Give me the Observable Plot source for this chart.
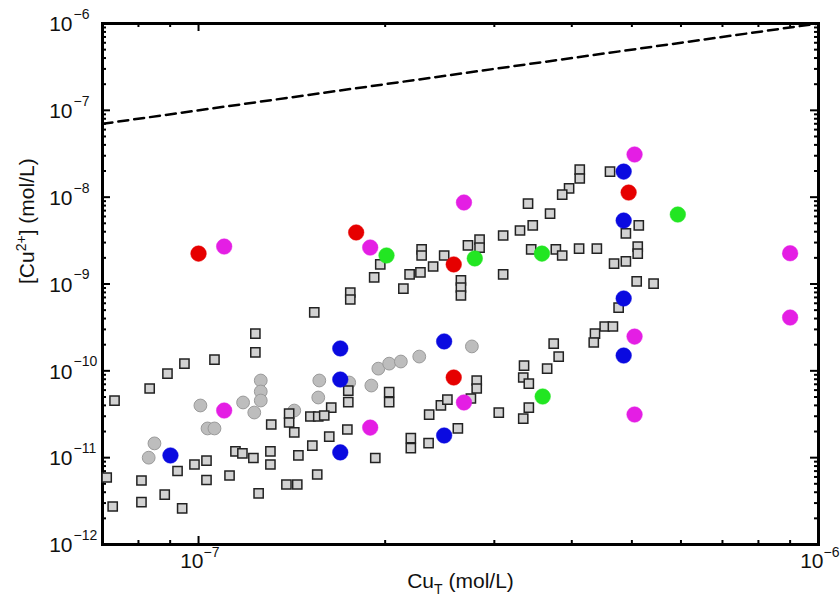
<!DOCTYPE html>
<html>
<head>
<meta charset="utf-8">
<script src="https://cdn.jsdelivr.net/npm/d3@7"></script>
<script src="https://cdn.jsdelivr.net/npm/@observablehq/plot@0.6"></script>
<style>
  html, body { margin: 0; padding: 0; background: #fff; }
  #chart svg { display: block; }
</style>
</head>
<body>
<div id="chart"></div>
<script>
// ---- Data ----
// Gray squares
const squareX = [1.235e-7,1.235e-7,9.49e-8,1.061e-7,8.91e-8,8.34e-8,7.32e-8,1.31e-7,1.40e-7,1.40e-7,
  1.427e-7,1.147e-7,1.177e-7,1.226e-7,1.306e-7,1.306e-7,1.449e-7,1.03e-7,9.85e-8,9.25e-8,
  7.11e-8,8.09e-8,1.03e-7,1.122e-7,8.82e-8,1.25e-7,1.386e-7,1.443e-7,8.09e-8,7.27e-8,
  9.41e-8,1.744e-7,1.744e-7,2.03e-7,2.03e-7,1.637e-7,1.515e-7,1.56e-7,1.595e-7,1.738e-7,
  1.625e-7,1.526e-7,1.928e-7,1.554e-7,2.20e-7,2.20e-7,2.35e-7,2.355e-7,2.46e-7,2.52e-7,
  2.62e-7,2.81e-7,2.81e-7,2.75e-7,4.76e-7,4.52e-7,4.66e-7,4.36e-7,4.34e-7,3.74e-7,
  3.81e-7,3.35e-7,3.65e-7,3.34e-7,3.41e-7,3.41e-7,3.34e-7,3.05e-7,1.964e-7,1.92e-7,
  2.29e-7,2.29e-7,2.19e-7,2.28e-7,2.39e-7,2.49e-7,2.14e-7,1.757e-7,1.757e-7,1.537e-7,
  2.65e-7,2.65e-7,2.65e-7,2.72e-7,2.84e-7,2.84e-7,4.12e-7,4.12e-7,4.61e-7,3.96e-7,
  3.86e-7,3.40e-7,3.69e-7,3.46e-7,3.30e-7,3.10e-7,3.44e-7,3.77e-7,3.86e-7,4.11e-7,
  4.39e-7,5.13e-7,4.89e-7,5.11e-7,5.11e-7,4.68e-7,4.89e-7,5.09e-7,5.42e-7,3.10e-7];
const squareY = [2.69e-10,1.63e-10,1.21e-10,1.35e-10,9.31e-11,6.26e-11,4.55e-11,2.41e-11,3.22e-11,2.54e-11,
  1.95e-11,1.18e-11,1.12e-11,9.91e-12,1.18e-11,8.34e-12,1.06e-11,9.27e-12,8.34e-12,7.02e-12,
  5.91e-12,5.46e-12,5.53e-12,6.23e-12,3.76e-12,3.87e-12,4.91e-12,4.91e-12,3.08e-12,2.74e-12,
  2.60e-12,5.93e-11,4.37e-11,5.70e-11,4.37e-11,3.78e-11,2.98e-11,2.98e-11,3.06e-11,2.11e-11,
  1.75e-11,1.38e-11,9.91e-12,6.40e-12,1.68e-11,1.29e-11,1.47e-11,3.14e-11,3.99e-11,4.67e-11,
  2.17e-11,7.74e-11,6.26e-11,4.80e-11,5.36e-10,3.24e-10,3.24e-10,2.69e-10,2.12e-10,2.06e-10,
  1.46e-10,1.15e-10,1.06e-10,8.38e-11,7.14e-11,3.78e-11,2.82e-11,3.31e-11,1.68e-9,1.19e-9,
  2.50e-9,2.13e-9,1.29e-9,1.36e-9,1.59e-9,2.13e-9,8.87e-10,7.98e-10,6.63e-10,4.70e-10,
  1.10e-9,9.11e-10,7.37e-10,2.78e-9,3.25e-9,2.63e-9,2.08e-8,1.64e-8,1.97e-8,1.26e-8,
  1.07e-8,8.45e-9,6.48e-9,4.72e-9,4.13e-9,3.62e-9,2.50e-9,2.50e-9,2.13e-9,2.56e-9,
  2.56e-9,4.72e-9,3.82e-9,2.70e-9,2.24e-9,1.72e-9,1.82e-9,1.07e-9,1.01e-9,1.29e-9];

// Gray circles
const grayX = [1.007e-7,1.034e-7,1.061e-7,1.18e-7,1.23e-7,1.26e-7,1.26e-7,1.26e-7,1.427e-7,8.49e-8,
  8.31e-8,1.566e-7,1.56e-7,1.90e-7,1.95e-7,2.03e-7,2.12e-7,2.27e-7,2.76e-7,1.75e-7];
const grayY = [3.99e-11,2.17e-11,2.17e-11,4.32e-11,3.31e-11,7.74e-11,5.78e-11,4.55e-11,3.49e-11,1.46e-11,
  1.00e-11,7.74e-11,4.93e-11,6.77e-11,1.06e-10,1.21e-10,1.28e-10,1.46e-10,1.91e-10,7.34e-11];

// Blue circles
const blueX = [9.01e-8,1.693e-7,1.693e-7,1.693e-7,2.49e-7,2.49e-7,4.85e-7,4.85e-7,4.85e-7,4.85e-7];
const blueY = [1.06e-11,1.81e-10,7.94e-11,1.15e-11,2.18e-10,1.80e-11,1.97e-8,5.38e-9,6.81e-10,1.50e-10];

// Red circles
const redX = [1.0e-7,1.796e-7,2.58e-7,4.94e-7,2.58e-7];
const redY = [2.24e-9,3.92e-9,1.68e-9,1.13e-8,8.38e-11];

// Magenta circles
const magentaX = [1.10e-7,1.892e-7,2.68e-7,5.05e-7,5.05e-7,5.05e-7,1.10e-7,1.892e-7,2.68e-7,9.0e-7,9.0e-7];
const magentaY = [2.70e-9,2.63e-9,8.68e-9,3.10e-8,2.48e-10,3.14e-11,3.49e-11,2.22e-11,4.32e-11,2.26e-9,4.11e-10];

// Green circles
const greenX = [2.01e-7,2.79e-7,3.58e-7,5.93e-7,3.59e-7];
const greenY = [2.13e-9,1.97e-9,2.24e-9,6.31e-9,5.06e-11];

// 1:1 reference line
const lineX = [7e-8, 1e-6];
const lineY = [7e-8, 1e-6];

// Axes
const xDomain = [7e-8, 1e-6];
const yDomain = [1e-12, 1e-6];
const xMajorTicks = [1e-7, 1e-6];
const xMajorExp = ["\u22127", "\u22126"];
const yMajorTicks = [1e-12, 1e-11, 1e-10, 1e-9, 1e-8, 1e-7, 1e-6];
const yMajorExp = ["\u221212", "\u221211", "\u221210", "\u22129", "\u22128", "\u22127", "\u22126"];
const mantissas = [2, 3, 4, 5, 6, 7, 8, 9];

// ---- Build tables ----
const pts = (xs, ys) => xs.map((x, i) => ({x, y: ys[i]}));
const squares = pts(squareX, squareY);
const grays = pts(grayX, grayY);
const blues = pts(blueX, blueY);
const reds = pts(redX, redY);
const magentas = pts(magentaX, magentaY);
const greens = pts(greenX, greenY);
const diag = pts(lineX, lineY);
const xMinor = [1e-8, 1e-7].flatMap(d => mantissas.map(m => m * d)).filter(v => v > xDomain[0] && v < xDomain[1]);
const yMinor = yMajorTicks.slice(0, -1).flatMap(d => mantissas.map(m => m * d));
const xMajor = xMajorTicks.map((v, i) => ({v, e: xMajorExp[i]}));
const yMajor = yMajorTicks.map((v, i) => ({v, e: yMajorExp[i]}));

const W = 840, H = 603;
const mL = 102, mR = 22, mT = 23, mB = 59;
const fw = W - mL - mR, fh = H - mT - mB;
const majLen = 8, minLen = 4;

const chart = Plot.plot({
  width: W, height: H,
  marginLeft: mL, marginRight: mR, marginTop: mT, marginBottom: mB,
  x: {type: "log", domain: xDomain, axis: null},
  y: {type: "log", domain: yDomain, axis: null},
  style: {fontFamily: "'Liberation Sans', Arial, Helvetica, sans-serif", background: "#fff", color: "#111"},
  marks: [
    // ticks (inward) on all four sides
    Plot.ruleX(xMinor, {x: d => d, insetTop: fh - minLen, stroke: "#000", strokeWidth: 2}),
    Plot.ruleX(xMinor, {x: d => d, insetBottom: fh - minLen, stroke: "#000", strokeWidth: 2}),
    Plot.ruleX(xMajorTicks, {x: d => d, insetTop: fh - majLen, stroke: "#000", strokeWidth: 2}),
    Plot.ruleX(xMajorTicks, {x: d => d, insetBottom: fh - majLen, stroke: "#000", strokeWidth: 2}),
    Plot.ruleY(yMinor, {y: d => d, insetRight: fw - minLen, stroke: "#000", strokeWidth: 2}),
    Plot.ruleY(yMinor, {y: d => d, insetLeft: fw - minLen, stroke: "#000", strokeWidth: 2}),
    Plot.ruleY(yMajorTicks, {y: d => d, insetRight: fw - majLen, stroke: "#000", strokeWidth: 2}),
    Plot.ruleY(yMajorTicks, {y: d => d, insetLeft: fw - majLen, stroke: "#000", strokeWidth: 2}),
    Plot.frame({stroke: "#000", strokeWidth: 3}),
    // 1:1 line
    Plot.line(diag, {x: "x", y: "y", stroke: "#000", strokeWidth: 2.5, strokeDasharray: "10,6"}),
    // data
    Plot.dot(grays, {x: "x", y: "y", r: 6.4, fill: "#bdbdbd", stroke: "#9a9a9a", strokeWidth: 1}),
    Plot.dot(squares, {x: "x", y: "y", symbol: "square", r: 5.2, fill: "#d2d2d2", stroke: "#222", strokeWidth: 1.5}),
    Plot.dot(blues, {x: "x", y: "y", r: 7.8, fill: "#0a0ae0", stroke: "#0a0ae0", strokeWidth: 0.5}),
    Plot.dot(reds, {x: "x", y: "y", r: 7.8, fill: "#e60000", stroke: "#e60000", strokeWidth: 0.5}),
    Plot.dot(magentas, {x: "x", y: "y", r: 7.8, fill: "#e41ee4", stroke: "#e41ee4", strokeWidth: 0.5}),
    Plot.dot(greens, {x: "x", y: "y", r: 7.8, fill: "#22e622", stroke: "#22e622", strokeWidth: 0.5}),
    // x tick labels
    Plot.text(xMajor, {x: "v", frameAnchor: "bottom", dy: 23, dx: 5, text: () => "10", textAnchor: "end", fontSize: 21, fill: "#111"}),
    Plot.text(xMajor, {x: "v", frameAnchor: "bottom", dy: 12, dx: 5, text: "e", textAnchor: "start", fontSize: 14, fill: "#111"}),
    // y tick labels
    Plot.text(yMajor, {y: "v", frameAnchor: "left", dx: -30, dy: 1, text: () => "10", textAnchor: "end", fontSize: 21, fill: "#111"}),
    Plot.text(yMajor, {y: "v", frameAnchor: "left", dx: -29, dy: -9, text: "e", textAnchor: "start", fontSize: 14, fill: "#111"}),
    // axis titles (rich text filled in below)
    Plot.text(["CuT (mol/L)"], {frameAnchor: "bottom", dy: 43, text: d => d, fontSize: 21, fill: "#111", className: "xtitle"}),
    Plot.text(["[Cu2+] (mol/L)"], {frameAnchor: "left", dx: -75, rotate: -90, text: d => d, fontSize: 21, fill: "#111", className: "ytitle"})
  ]
});

document.getElementById("chart").appendChild(chart);

// Rich text for axis titles (subscript / superscript)
function rich(sel, parts) {
  d3.select(chart).selectAll(sel).each(function () {
    const t = d3.select(this);
    t.text(null);
    let shift = 0;
    for (const p of parts) {
      const dy = p.shift - shift;
      shift = p.shift;
      t.append("tspan").attr("dy", dy).attr("font-size", p.size || null).text(p.text);
    }
  });
}
rich(".xtitle text", [
  {text: "Cu", shift: 0},
  {text: "T", shift: 6, size: 14},
  {text: " (mol/L)", shift: 0}
]);
rich(".ytitle text", [
  {text: "[Cu", shift: 0},
  {text: "2+", shift: -8, size: 14},
  {text: "] (mol/L)", shift: 0}
]);
</script>
</body>
</html>
